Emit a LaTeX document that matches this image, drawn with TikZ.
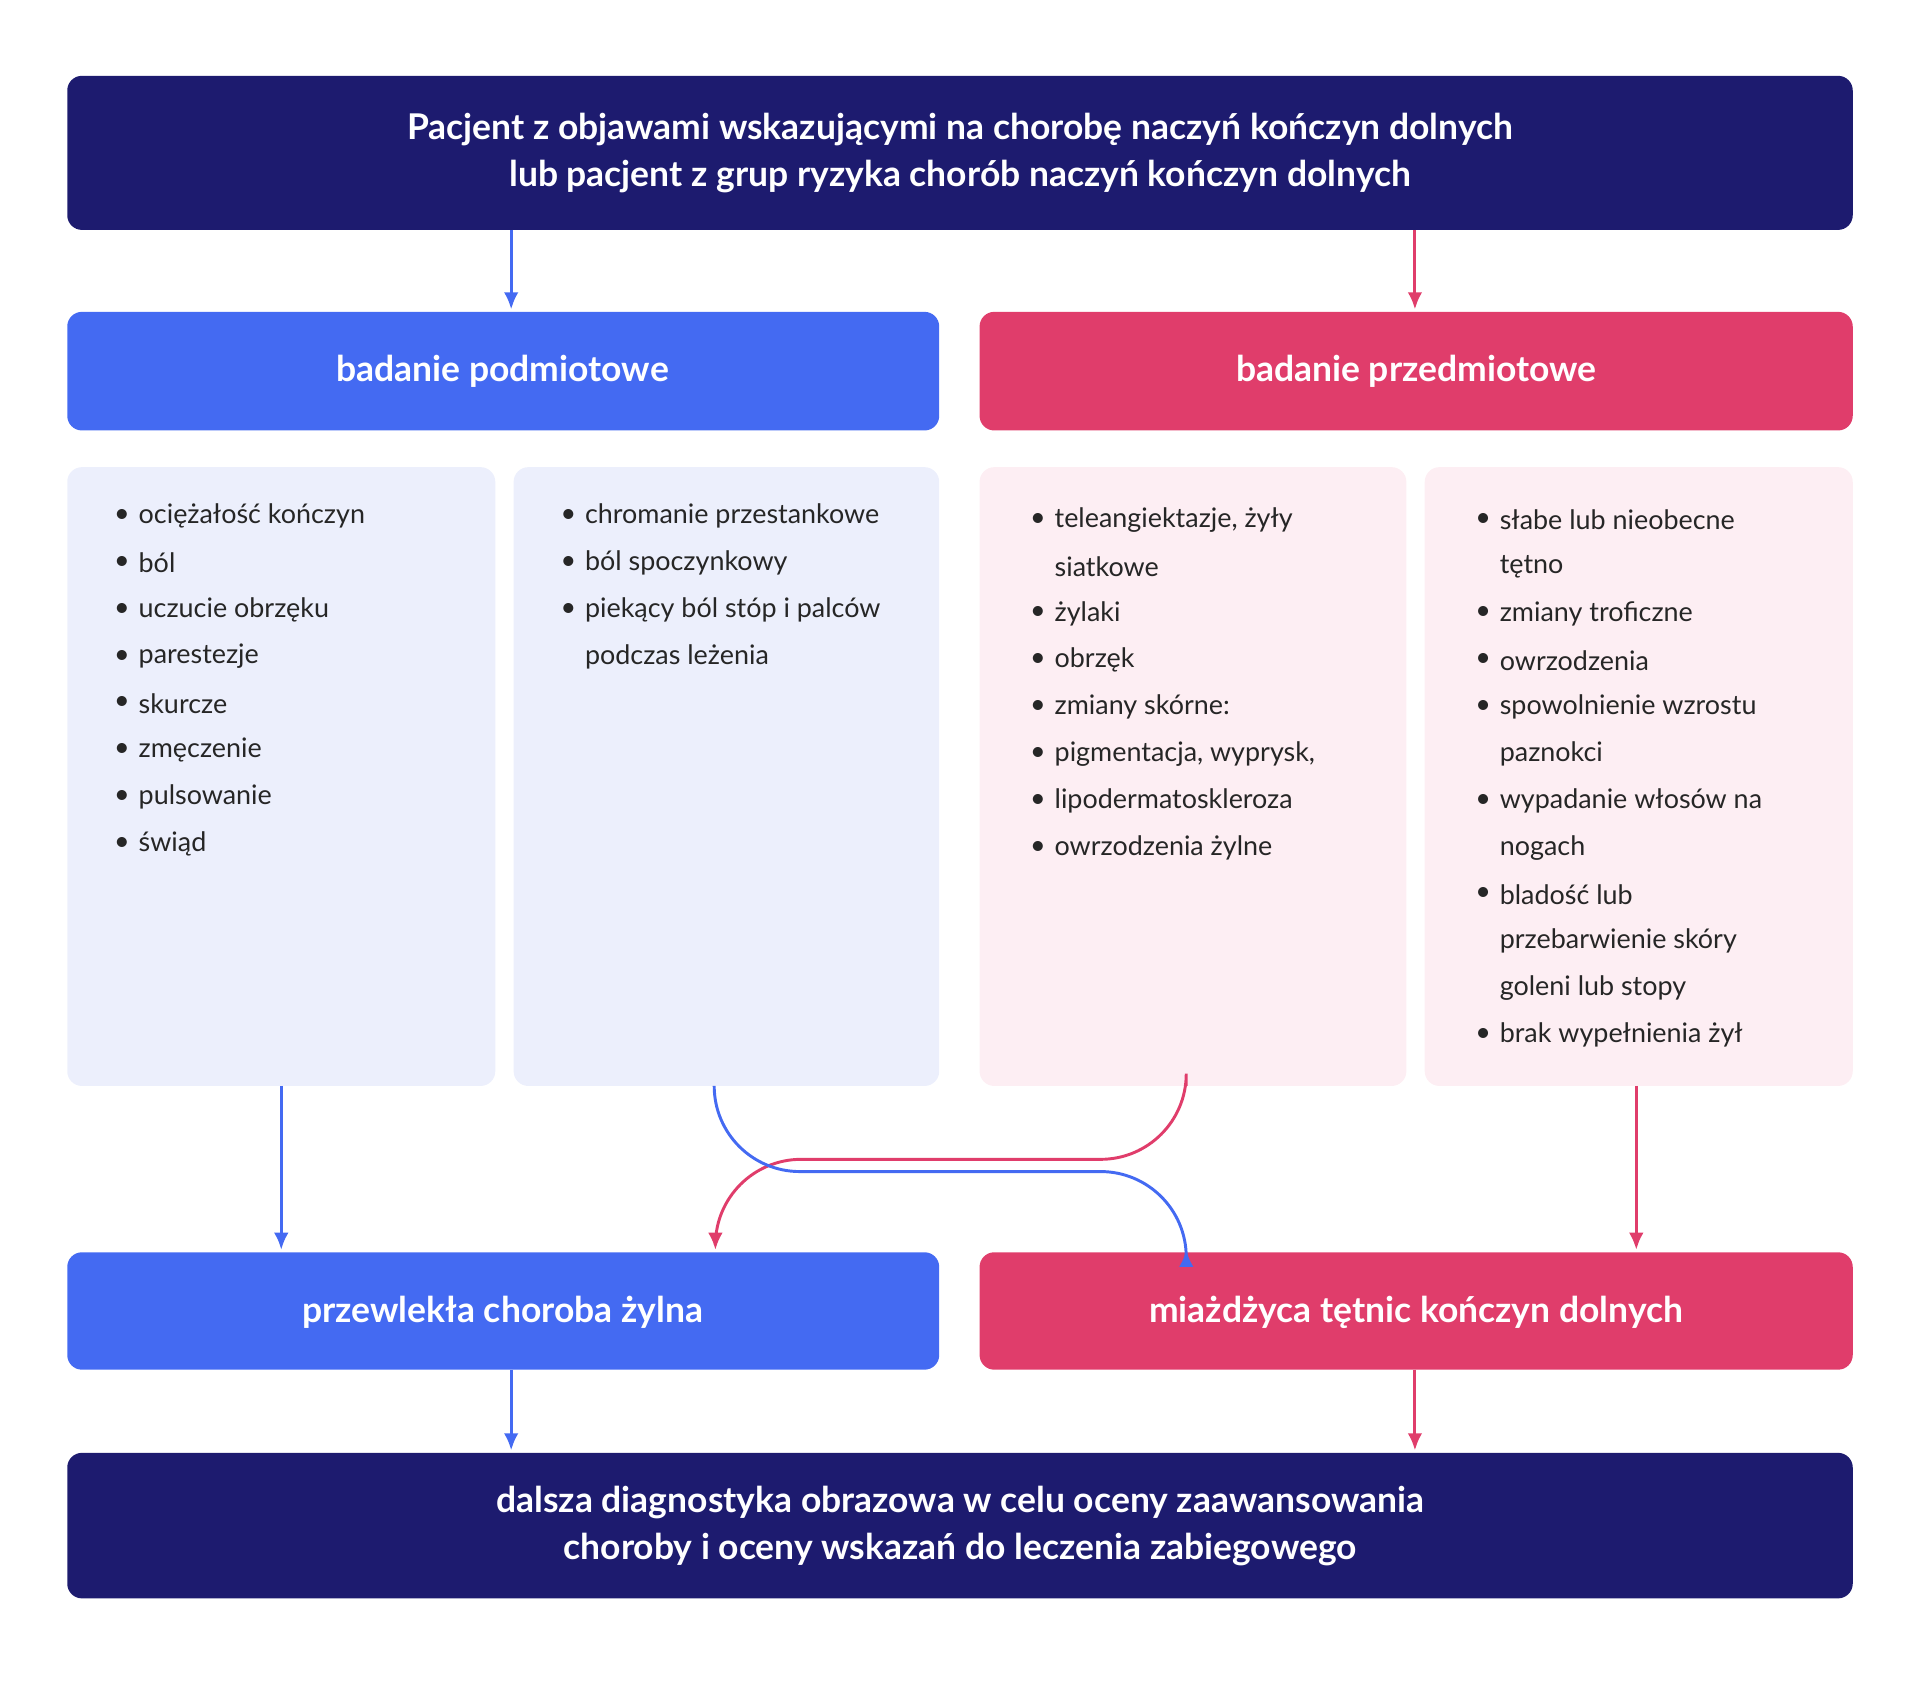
\documentclass[tikz,border=0pt]{standalone}
\usepackage{fontspec}
\setmainfont{Lato}
\definecolor{navy}{HTML}{1D1B6F}
\definecolor{blu}{HTML}{446AF2}
\definecolor{rd}{HTML}{E03D6B}
\definecolor{lblu}{HTML}{ECEFFC}
\definecolor{lpink}{HTML}{FDEEF3}
\tikzset{
 box/.style={rounded corners=6pt,draw=none},
 hdr/.style={text=white,font=\bfseries\fontsize{14.5}{19}\selectfont,align=center},
 itm/.style={anchor=west,font=\fontsize{11}{13}\selectfont,text=black!85,inner sep=0},
 barr/.style={draw=blu,line width=1.2pt,-{Latex[length=7pt,width=6pt]}},
 rarr/.style={draw=rd,line width=1.2pt,-{Latex[length=7pt,width=6pt]}},
}
\usetikzlibrary{arrows.meta}
\newcommand{\lst}[4]{% x, ystart, color, list
 \foreach \b/\t [count=\i from 0] in {#4}{
  \ifnum\b=1 \node[itm] at (#1-20,#2+\i*38.3) {\textbullet};\fi
  \node[itm] at (#1,#2+\i*38.3) {\t};
 }}
\begin{document}
\begin{tikzpicture}[x=0.5pt,y=-0.5pt]
\useasboundingbox (0,0) rectangle (1570,1379);
\fill[box,navy] (55,62) rectangle (1515,188);
\node[hdr] (top) at (785,125) {Pacjent z objawami wskazującymi na chorobę naczyń kończyn dolnych\\lub pacjent z grup ryzyka chorób naczyń kończyn dolnych};
\fill[box,blu] (55,255) rectangle (768,352);
\node[hdr] (bp) at (411,304) {badanie podmiotowe};
\fill[box,rd] (801,255) rectangle (1515,352);
\node[hdr] (bpr) at (1158,304) {badanie przedmiotowe};
\fill[box,lblu] (55,382) rectangle (405,888);
\fill[box,lblu] (420,382) rectangle (768,888);
\fill[box,lpink] (801,382) rectangle (1150,888);
\fill[box,lpink] (1165,382) rectangle (1515,888);
\lst{113}{422}{}{1/ociężałość kończyn,1/ból,1/uczucie obrzęku,1/parestezje,1/skurcze,1/zmęczenie,1/pulsowanie,1/świąd}
\lst{478}{422}{}{1/chromanie przestankowe,1/ból spoczynkowy,1/piekący ból stóp i palców,0/podczas leżenia}
\lst{862}{425}{}{1/{teleangiektazje, żyły},0/siatkowe,1/żylaki,1/obrzęk,1/zmiany skórne:,1/{pigmentacja, wyprysk,},1/lipodermatoskleroza,1/owrzodzenia żylne}
\lst{1226}{425}{}{1/słabe lub nieobecne,0/tętno,1/zmiany troficzne,1/owrzodzenia,1/spowolnienie wzrostu,0/paznokci,1/wypadanie włosów na,0/nogach,1/bladość lub,0/przebarwienie skóry,0/goleni lub stopy,1/brak wypełnienia żył}
\fill[box,blu] (55,1024) rectangle (768,1120);
\node[hdr] (pch) at (411,1073) {przewlekła choroba żylna};
\fill[box,rd] (801,1024) rectangle (1515,1120);
\node[hdr] (mt) at (1158,1073) {miażdżyca tętnic kończyn dolnych};
\fill[box,navy] (55,1188) rectangle (1515,1307);
\node[hdr] (fin) at (785,1248) {dalsza diagnostyka obrazowa w celu oceny zaawansowania\\choroby i oceny wskazań do leczenia zabiegowego};
\coordinate (t1) at (418,188); \coordinate (t2) at (418,253);
\coordinate (t3) at (1157,188); \coordinate (t4) at (1157,253);
\draw[barr] (t1) -- (t2);
\draw[rarr] (t3) -- (t4);
\coordinate (c1a) at (230,888); \coordinate (c1b) at (230,1022);
\draw[barr] (c1a) -- (c1b);
\coordinate (c4a) at (1338,888); \coordinate (c4b) at (1338,1022);
\draw[rarr] (c4a) -- (c4b);
\draw[rarr,rounded corners=35pt] (970,888) -- (970,948) -- (585,948) -- (585,1022);
\draw[barr,rounded corners=35pt] (584,888) -- (584,958) -- (970,958) -- (970,1022);
\coordinate (b1) at (418,1120); \coordinate (b2) at (418,1186);
\coordinate (b3) at (1157,1120); \coordinate (b4) at (1157,1186);
\draw[barr] (b1) -- (b2);
\draw[rarr] (b3) -- (b4);
\end{tikzpicture}
\end{document}
